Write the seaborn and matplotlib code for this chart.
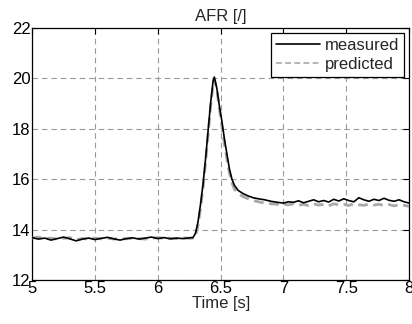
import pandas as pd
import matplotlib
matplotlib.use("Agg")
import matplotlib.pyplot as plt
import seaborn as sns

# time axis [s]
time = [5.00, 5.05, 5.10, 5.15, 5.20, 5.25, 5.30, 5.35, 5.40, 5.45, 5.50, 5.55, 5.60,
        5.65, 5.70, 5.75, 5.80, 5.85, 5.90, 5.95, 6.00, 6.05, 6.10, 6.15, 6.20, 6.25,
        6.28, 6.30, 6.32, 6.34, 6.36, 6.38, 6.40, 6.42, 6.44, 6.45, 6.47, 6.49, 6.51,
        6.53, 6.55, 6.57, 6.59, 6.61, 6.64, 6.68, 6.72, 6.76, 6.80, 6.85, 6.90, 6.95,
        7.00, 7.04, 7.08, 7.12, 7.16, 7.20, 7.24, 7.28, 7.32, 7.36, 7.40, 7.44, 7.48,
        7.52, 7.56, 7.60, 7.64, 7.68, 7.72, 7.76, 7.80, 7.84, 7.88, 7.92, 7.96, 8.00]

measured = [13.68, 13.62, 13.66, 13.58, 13.64, 13.70, 13.63, 13.55, 13.62, 13.66, 13.60, 13.65, 13.69,
            13.63, 13.58, 13.64, 13.67, 13.62, 13.66, 13.70, 13.64, 13.68, 13.63, 13.66, 13.64, 13.67,
            13.68, 13.85, 14.30, 15.00, 15.80, 16.80, 17.90, 19.00, 19.90, 20.05, 19.60, 18.90, 18.30,
            17.60, 17.00, 16.40, 16.00, 15.75, 15.55, 15.42, 15.33, 15.26, 15.22, 15.18, 15.12, 15.08,
            15.05, 15.10, 15.08, 15.14, 15.06, 15.12, 15.18, 15.10, 15.15, 15.09, 15.20, 15.13, 15.22,
            15.15, 15.10, 15.26, 15.18, 15.12, 15.20, 15.15, 15.24, 15.16, 15.12, 15.18, 15.10, 15.05]

predicted = [13.66, 13.70, 13.64, 13.66, 13.62, 13.65, 13.68, 13.60, 13.64, 13.62, 13.66, 13.63, 13.66,
             13.62, 13.65, 13.63, 13.66, 13.64, 13.62, 13.66, 13.68, 13.65, 13.66, 13.64, 13.67, 13.65,
             13.66, 13.75, 14.15, 14.85, 15.65, 16.65, 17.75, 18.85, 19.75, 19.95, 19.55, 18.80, 18.10,
             17.40, 16.80, 16.25, 15.85, 15.60, 15.42, 15.30, 15.22, 15.15, 15.10, 15.05, 15.02, 15.00,
             15.00, 14.98, 15.02, 14.96, 15.00, 14.95, 15.02, 14.97, 15.00, 14.94, 15.02, 14.98, 15.00,
             14.95, 15.03, 14.98, 14.96, 15.01, 14.97, 15.00, 14.95, 14.99, 14.94, 14.98, 14.96, 14.92]

df = pd.DataFrame({"time": time, "measured": measured, "predicted": predicted})

sns.set_style("white")
plt.rcParams['font.family'] = ['Liberation Sans', 'DejaVu Sans']

fig = plt.figure(figsize=(4.12, 3.24), dpi=100)
ax = fig.add_axes([0.078, 0.136, 0.915, 0.778])

sns.lineplot(data=df, x="time", y="predicted", ax=ax, color="#a8a8a8", lw=2.0,
             label="predicted", zorder=3)
sns.lineplot(data=df, x="time", y="measured", ax=ax, color="black", lw=1.2,
             label="measured", zorder=4)
ax.lines[0].set_dashes([3.5, 2.0])

ax.set_xlim(5, 8)
ax.set_ylim(12, 22)
ax.set_xticks([5, 5.5, 6, 6.5, 7, 7.5, 8])
ax.set_xticklabels(["5", "5.5", "6", "6.5", "7", "7.5", "8"])
ax.set_yticks([12, 14, 16, 18, 20, 22])
ax.grid(True, color="#9a9a9a", dashes=(5, 3.5), linewidth=0.8)
ax.tick_params(direction="in", top=True, right=True, length=4, width=0.8,
               labelsize=12, colors="black", pad=1)
for s in ax.spines.values():
    s.set_color("black")
    s.set_linewidth(0.9)

ax.set_title("AFR [/]", fontsize=12, pad=5)
ax.set_xlabel("Time [s]", fontsize=12, labelpad=0)
ax.set_ylabel("")

h, l = ax.get_legend_handles_labels()
leg = ax.legend([h[1], h[0]], [l[1], l[0]], loc="upper right", fontsize=12,
                frameon=True, fancybox=False, edgecolor="black", framealpha=1,
                borderpad=0.3, handlelength=2.6, handletextpad=0.3,
                labelspacing=0.25, borderaxespad=0.3)
leg.get_frame().set_linewidth(0.9)
leg.get_lines()[1].set_linewidth(1.2)

fig.savefig("out.png", dpi=100)
